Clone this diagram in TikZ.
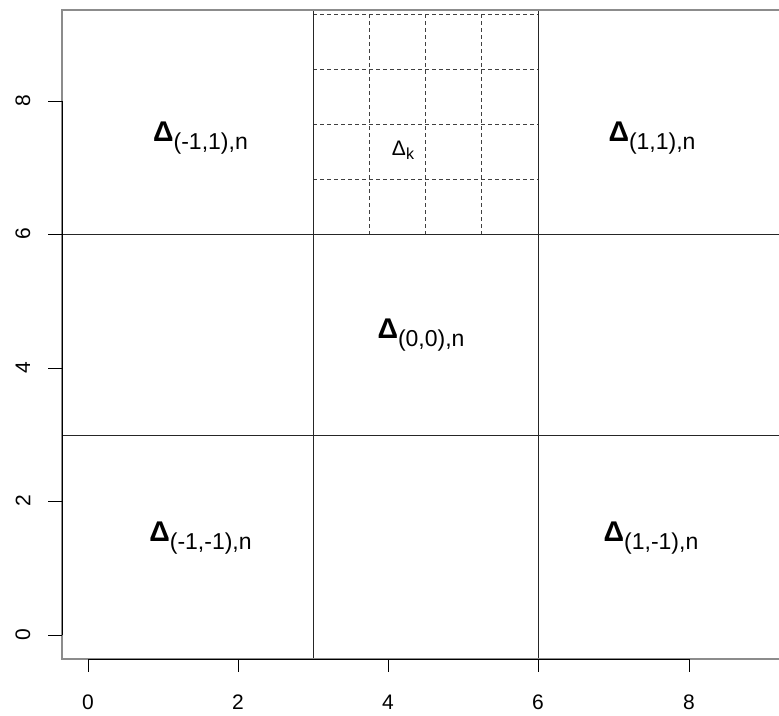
\documentclass[tikz,border=0pt]{standalone}
\usepackage{fontspec}
\setmainfont{Liberation Sans}
\begin{document}
\begin{tikzpicture}[x=1pt,y=-1pt,
  boxline/.style={draw=black!45,line width=1.6pt},
  axisline/.style={draw=black,line width=1pt},
  splitline/.style={draw=black!85,line width=0.9pt},
  gridline/.style={draw=black!75,line width=1pt,dash pattern=on 4pt off 3pt},
  ticklab/.style={inner sep=0pt,font=\fontsize{21}{21}\selectfont},
  cell/.style={anchor=base,inner sep=0pt}]
\useasboundingbox (0,0) rectangle (779,715);
\fill[white] (0,0) rectangle (779,715);
% dashed subdivision
\foreach \gx in {313,369.25,425.5,481.75,538} \draw[gridline] (\gx,14) -- (\gx,234);
\foreach \gy in {14,69,124,179,234} \draw[gridline] (313,\gy) -- (538,\gy);
% partition lines
\draw[splitline] (313,10) -- (313,659);
\draw[splitline] (538,10) -- (538,659);
\draw[splitline] (62,234) -- (779,234);
\draw[splitline] (62,435) -- (779,435);
% plot box
\draw[boxline] (779,10) -- (62,10) -- (62,659) -- (779,659);
% axes
\draw[axisline] (88,659) -- (689,659);
\draw[axisline] (62,635) -- (62,101);
\foreach \tx/\tl in {88/0,238/2,388/4,538/6,689/8}{
  \draw[axisline] (\tx,659) -- (\tx,672);
  \node[ticklab] (xt\tl) at (\tx,702) {\tl};
}
\foreach \ty/\tl in {635/0,501/2,368/4,234/6,101/8}{
  \draw[axisline] (62,\ty) -- (48,\ty);
  \node[ticklab,rotate=90] (yt\tl) at (23,\ty) {\tl};
}
% cell labels
\newcommand{\bigD}{{\fontsize{28.5}{28.5}\selectfont\textbf{Δ}}}
\newcommand{\subtxt}[1]{\raisebox{-8pt}{\fontsize{23}{23}\selectfont #1}}
\node[cell] (lmp) at (200.5,141) {\bigD\subtxt{(-1,1),n}};
\node[cell] (lpp) at (652,141) {\bigD\subtxt{(1,1),n}};
\node[cell] (lzz) at (421,338) {\bigD\subtxt{(0,0),n}};
\node[cell] (lmm) at (200.5,541) {\bigD\subtxt{(-1,-1),n}};
\node[cell] (lpm) at (651,541) {\bigD\subtxt{(1,-1),n}};
\node[cell] (lk) at (403,155) {{\fontsize{21}{21}\selectfont Δ}\raisebox{-4.5pt}{\fontsize{16}{16}\selectfont k}};
\end{tikzpicture}
\end{document}
